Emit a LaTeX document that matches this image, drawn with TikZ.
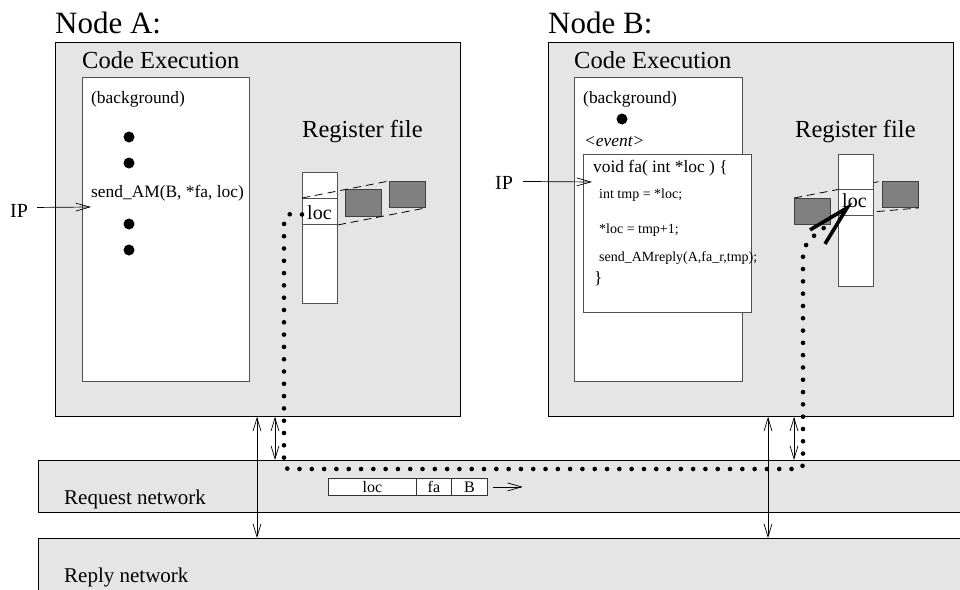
\documentclass[tikz,border=0pt]{standalone}
\usepackage{fontspec}
\setmainfont{Liberation Serif}
\usetikzlibrary{arrows.meta,calc}
\definecolor{bgray}{RGB}{229,229,229}
\definecolor{dgray}{RGB}{128,128,128}
\definecolor{lgrid}{RGB}{80,80,80}
\begin{document}
\begin{tikzpicture}[x=1pt,y=-1pt,
  outerbox/.style={draw=black, fill=bgray, line width=0.9pt, inner sep=0pt, anchor=north west},
  innerbox/.style={draw=lgrid, fill=white, line width=0.9pt, inner sep=0pt, anchor=north west},
  regbox/.style={draw=lgrid, fill=white, line width=0.9pt, inner sep=0pt, anchor=north west},
  graybox/.style={draw=black!75, fill=dgray, line width=0.9pt, inner sep=0pt, anchor=north west},
  pktbox/.style={draw=black!80, fill=white, line width=0.8pt, inner sep=0pt, anchor=north west, font=\fontsize{16}{16}\selectfont},
  lbl/.style={inner sep=0pt, anchor=base west},
  big/.style={lbl, font=\fontsize{31}{31}\selectfont},
  mid/.style={lbl, font=\fontsize{24.5}{24.5}\selectfont},
  txt/.style={lbl, font=\fontsize{17.4}{17.4}\selectfont},
  sml/.style={lbl, font=\fontsize{14}{14}\selectfont},
  iplbl/.style={lbl, font=\fontsize{20}{20}\selectfont},
  netlbl/.style={lbl, font=\fontsize{21}{21}\selectfont},
  bdot/.style={circle, fill=black, inner sep=0pt, minimum size=11pt},
  arr/.style={line width=0.7pt, -{Straight Barb[length=14pt,width=8pt]}},
  dbl/.style={line width=0.7pt, {Straight Barb[length=13pt,width=8pt]}-{Straight Barb[length=13pt,width=8pt]}},
  dashln/.style={line width=0.8pt, dash pattern=on 8pt off 5pt},
  dotln/.style={line width=4.6pt, line cap=round, dash pattern=on 0pt off 12.3pt}
]
\useasboundingbox (0,0) rectangle (960,589);
\clip (0,0) rectangle (960,589);

% network boxes
\node[outerbox, minimum width=960pt, minimum height=52pt] (req) at (38,460) {};
\node[outerbox, minimum width=960pt, minimum height=80pt] (rep) at (38,538) {};
\node[netlbl] (reqlbl) at (64,504) {Request network};
\node[netlbl] (replbl) at (64,582) {Reply network};

% node boxes
\node[outerbox, minimum width=405pt, minimum height=374pt] (nodeA) at (55,42) {};
\node[outerbox, minimum width=405pt, minimum height=374pt] (nodeB) at (548,42) {};
\node[big] (titleA) at (55,33) {Node A:};
\node[big] (titleB) at (548,33) {Node B:};

% ---------- Node A ----------
\node[mid] (ceA) at (82,68) {Code Execution};
\node[innerbox, minimum width=167pt, minimum height=304pt] (codeA) at (82,77) {};
\node[txt] (bgA) at (91,103) {(background)};
\node[bdot] (dA1) at (129,137) {};
\node[bdot] (dA2) at (129,163) {};
\node[txt] (sendA) at (91,197) {send\_AM(B, *fa, loc)};
\node[bdot] (dA3) at (129,224) {};
\node[bdot] (dA4) at (129,250) {};
\node[iplbl] (ipA) at (10,217) {IP};
\coordinate (ipAend) at (91,207);
\draw[arr] ($(ipA.east)+(9,-3)$) -- (ipAend);

\node[mid] (rfA) at (302,137) {Register file};
\node[regbox, minimum width=35pt, minimum height=131pt] (regA) at (302,172) {};
\node[regbox, minimum width=35pt, minimum height=26pt] (locA) at (302,198) {};
\node[iplbl] (locAt) at (307,219) {loc};
\node[graybox, minimum width=36pt, minimum height=27pt] (gA1) at (345,189) {};
\node[graybox, minimum width=36pt, minimum height=26pt] (gA2) at (389,181) {};
\draw[dashln] (locA.north west) -- (gA2.north west);
\draw[dashln] (locA.south east) -- (gA2.south east);

% ---------- Node B ----------
\node[mid] (ceB) at (574,68) {Code Execution};
\node[innerbox, minimum width=168pt, minimum height=304pt] (codeB) at (574,77) {};
\node[txt] (bgB) at (583,103) {(background)};
\node[bdot] (dB1) at (622,119) {};
\node[txt] (evB) at (584,146) {\textit{<event>}};
\node[innerbox, minimum width=168pt, minimum height=158pt] (func) at (583,154) {};
\node[txt] (f1) at (593,172) {void fa( int *loc ) \{};
\node[sml] (f2) at (599,198) {int tmp = *loc;};
\node[sml] (f3) at (599,233) {*loc = tmp+1;};
\node[sml] (f4) at (599,261) {send\_AMreply(A,fa\_r,tmp);};
\node[txt] (f5) at (594,283) {\}};
\node[iplbl] (ipB) at (495,189) {IP};
\coordinate (ipBend) at (592,182);
\draw[arr] ($(ipB.east)+(10,-1)$) -- (ipBend);

\node[mid] (rfB) at (795,137) {Register file};
\node[graybox, minimum width=36pt, minimum height=26pt] (gB1) at (794,198) {};
\node[graybox, minimum width=36pt, minimum height=26pt] (gB2) at (882,181) {};
\draw[dashln] (gB1.north west) -- (gB2.north west);
\draw[dashln] (838,215) -- (gB2.south east);
\node[regbox, minimum width=35pt, minimum height=132pt] (regB) at (838,154) {};
\node[regbox, minimum width=35pt, minimum height=26pt] (locB) at (838,189) {};
\node[iplbl] (locBt) at (842,207) {loc};

% ---------- vertical double arrows ----------
\coordinate (xa1) at (257,0);
\coordinate (xa2) at (275,0);
\coordinate (xb1) at (768,0);
\coordinate (xb2) at (794,0);
\draw[dbl] (nodeA.south -| xa1) -- (rep.north -| xa1);
\draw[dbl] (nodeA.south -| xa2) -- (req.north -| xa2);
\draw[dbl] (nodeB.south -| xb1) -- (rep.north -| xb1);
\draw[dbl] (nodeB.south -| xb2) -- (req.north -| xb2);

% ---------- packet ----------
\node[pktbox, minimum width=88pt, minimum height=17pt] (p1) at (328,478) {loc};
\node[pktbox, minimum width=35pt, minimum height=17pt] (p2) at (416,478) {fa};
\node[pktbox, minimum width=36pt, minimum height=17pt] (p3) at (451,478) {B};
\draw[arr] ($(p3.east)+(5,0)$) -- ($(p3.east)+(35,0)$);

% ---------- dotted path ----------
\coordinate (startA) at ($(locA.west)+(0,3)$);
\coordinate (tipB) at ($(locB.south west)+(9,-8)$);
\draw[dotln] (startA) -- (291,214) .. controls (286,214) and (284,218) .. (284,225)
  -- (284,463) .. controls (284,467) and (286,469) .. (290,469)
  -- (797,469) .. controls (801,469) and (803,467) .. (803,463)
  -- (803,255) .. controls (803,245) and (812,236) .. (828,225);
\draw[line width=3.6pt] ($(tipB)+(-37,22)$) -- (tipB) -- ($(tipB)+(-22,36)$);
\end{tikzpicture}
\end{document}
